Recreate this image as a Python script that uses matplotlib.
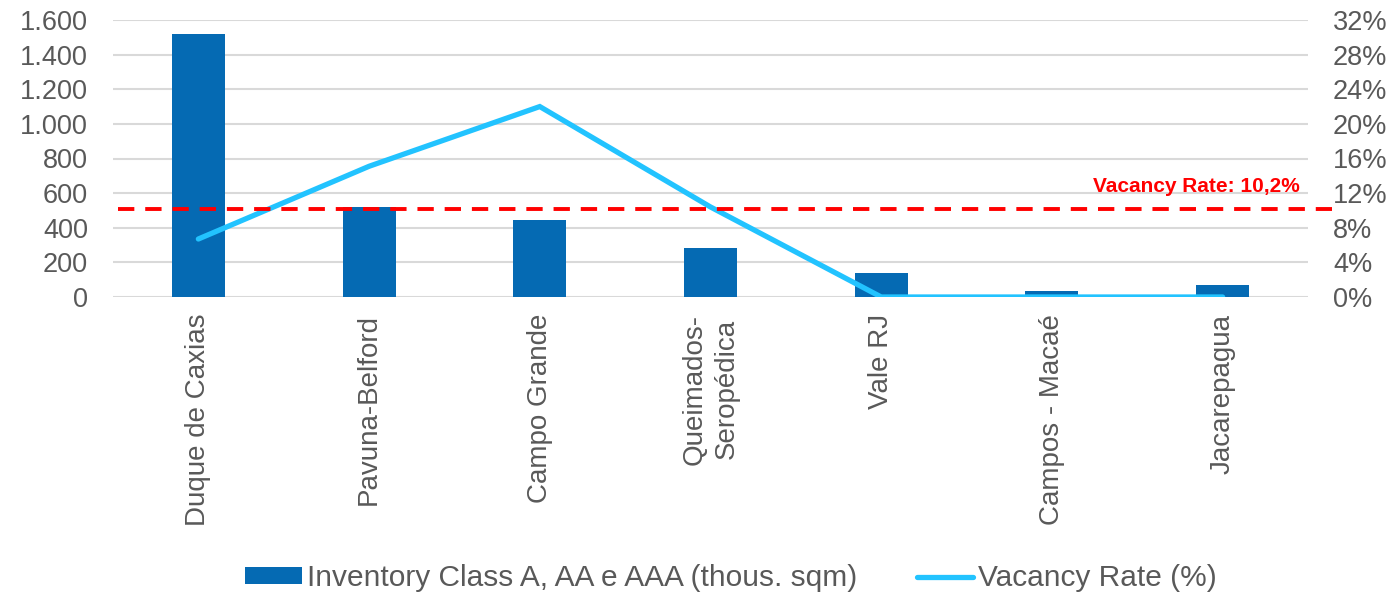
import matplotlib.pyplot as plt
from matplotlib.ticker import FuncFormatter

plt.rcParams['font.family'] = ['Liberation Sans', 'DejaVu Sans']

# data
categories = ['Duque de Caxias', 'Pavuna-Belford', 'Campo Grande', 'Queimados-\nSeropédica',
              'Vale RJ', 'Campos - Macaé', 'Jacarepagua']
inventory = [1517, 522, 443, 281, 137, 37, 72]  # thous. sqm
vacancy = [6.7, 15.1, 22.0, 10.4, 0.0, 0.0, 0.0]  # %
avg_vacancy = 10.2

grey = '#595959'
bar_col = '#056AB3'
line_col = '#22C3FF'

fig = plt.figure(figsize=(13.96, 5.98), dpi=100)
ax = fig.add_axes([113 / 1396, 1 - 297 / 598, (1308 - 113) / 1396, (297 - 20) / 598])
ax2 = ax.twinx()

x = list(range(len(categories)))
bars = ax.bar(x, inventory, width=0.31, color=bar_col, zorder=2,
              label='Inventory Class A, AA e AAA (thous. sqm)')
ax.set_ylim(0, 1600)
ax.set_yticks(range(0, 1601, 200))
ax.yaxis.set_major_formatter(FuncFormatter(lambda v, p: f'{int(v):,}'.replace(',', '.')))
ax.set_xlim(-0.5, len(categories) - 0.5)
ax.set_xticks(x)
ax.set_xticklabels(categories, rotation=90, va='top', ha='center', linespacing=1.3,
                   fontsize=20)
ax.grid(axis='y', color='#D9D9D9', linewidth=1.5, zorder=0)
ax.set_axisbelow(True)

ln, = ax2.plot(x, vacancy, color=line_col, linewidth=3.8, solid_capstyle='round',
               solid_joinstyle='miter', zorder=3, label='Vacancy Rate (%)')
ax2.set_ylim(0, 32)
ax2.set_yticks(range(0, 33, 4))
ax2.yaxis.set_major_formatter(FuncFormatter(lambda v, p: f'{int(v)}%'))

# average vacancy reference line
ax2.plot([0.004, 1.02], [avg_vacancy, avg_vacancy], transform=ax2.get_yaxis_transform(),
         color='#FF0000', linestyle=(0, (4.2, 2.8)), linewidth=2.8, clip_on=False, zorder=4)
ax2.text(0.9935, 12.1, 'Vacancy Rate: 10,2%', transform=ax2.get_yaxis_transform(),
         ha='right', va='baseline', color='#FF0000', fontsize=15, fontweight='bold')

for a in (ax, ax2):
    for s in a.spines.values():
        s.set_visible(False)
    a.tick_params(length=0, labelcolor=grey)
ax.tick_params(axis='y', pad=18, labelsize=19.5)
ax2.tick_params(axis='y', pad=18, labelsize=19.5)
ax.tick_params(axis='x', pad=12)

fig.legend(handles=[bars, ln], loc='center', bbox_to_anchor=(0.5236, 1 - 578 / 598), ncol=2,
           frameon=False, fontsize=21.5, labelcolor=grey, handlelength=1.9, handleheight=0.47,
           handletextpad=0.15, columnspacing=2.0)

fig.savefig('out.png', dpi=100)
